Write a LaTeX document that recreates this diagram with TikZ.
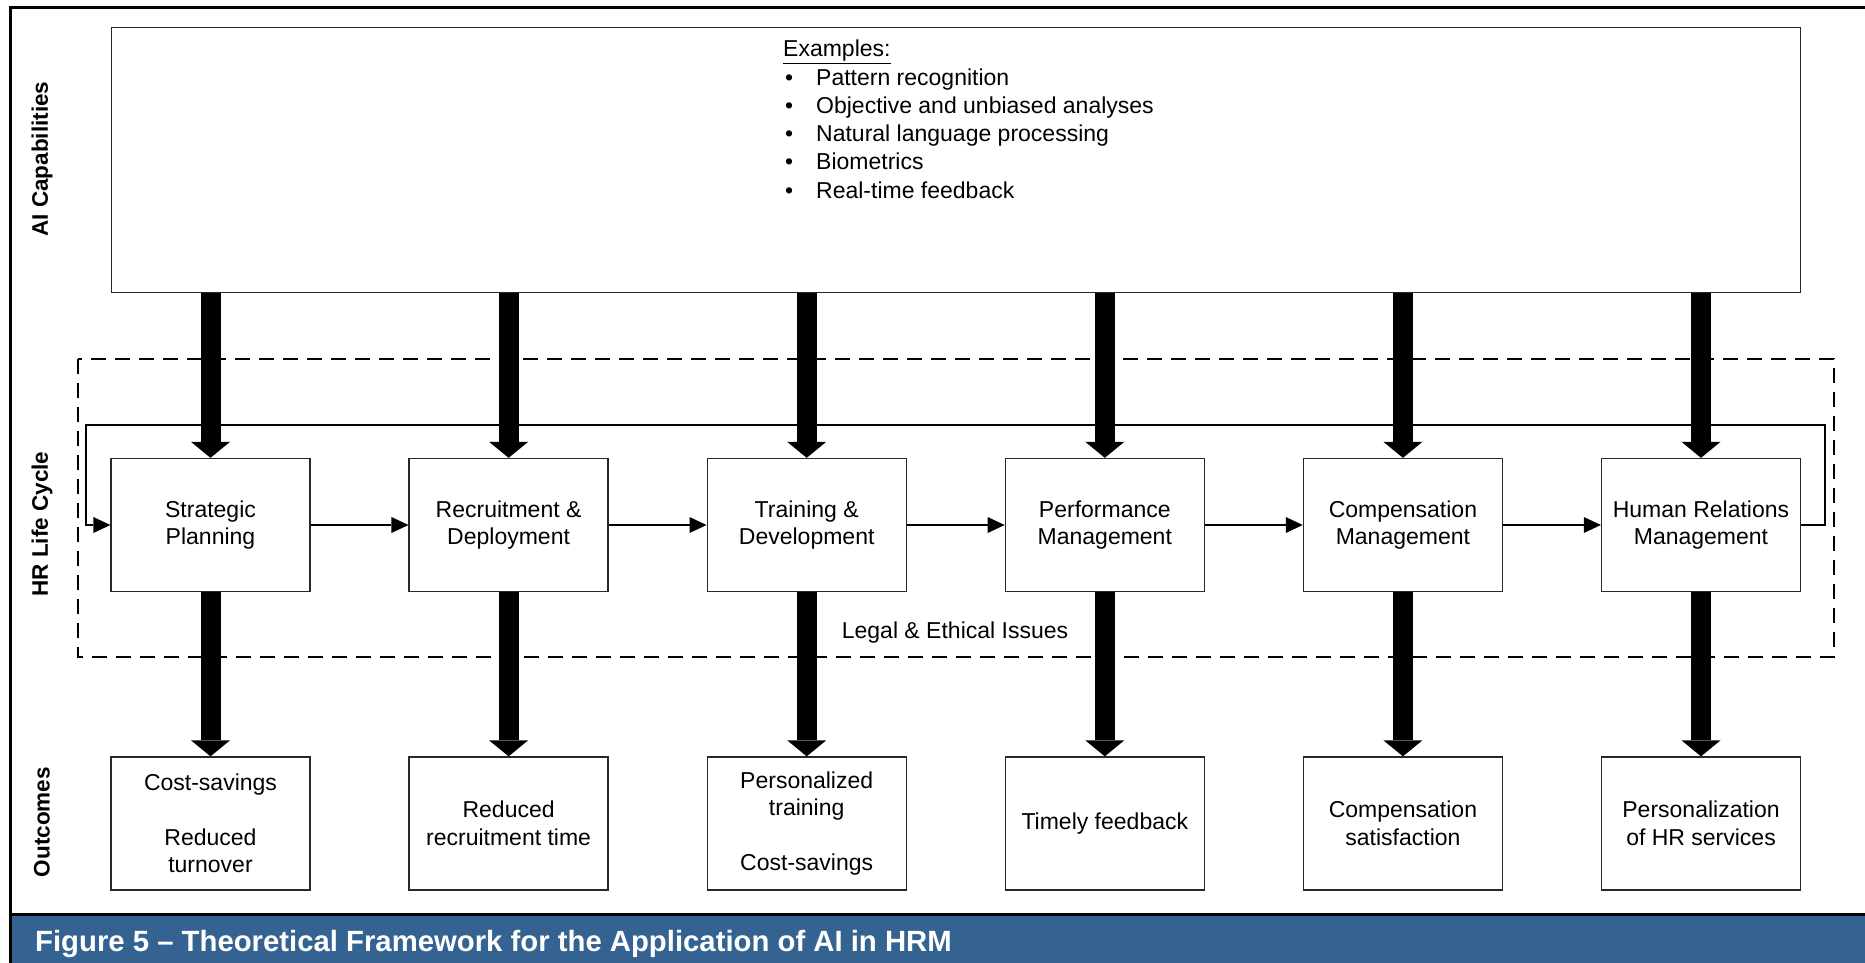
\documentclass[tikz,border=0pt]{standalone}
\usepackage{fontspec}
\setmainfont{Liberation Sans}
\usetikzlibrary{arrows.meta}
\definecolor{capblue}{RGB}{52,99,145}
\definecolor{boxline}{RGB}{40,40,40}
\begin{document}
\begin{tikzpicture}[x=1pt,y=-1pt,
  box/.style={draw=boxline, line width=1.3pt, minimum width=199pt, minimum height=133pt,
    inner sep=0pt, align=center, font=\fontsize{23}{27.5}\selectfont},
  txt/.style={inner sep=0pt, font=\fontsize{23}{27.5}\selectfont},
  big/.style={line width=20pt, -{Triangle[width=39pt,length=16pt,line width=0pt]}},
  flow/.style={line width=1.5pt, -{Triangle[width=16pt,length=17pt,line width=0pt]}},
  side/.style={rotate=90, inner sep=0pt, font=\bfseries\fontsize{22.5}{27}\selectfont},
]
\useasboundingbox (0,0) rectangle (1865,963);

% frame and caption bar
\fill[capblue] (11.5,916) rectangle (1865,963);
\draw[line width=3pt] (10,963) -- (10,8) -- (1865,8);
\draw[line width=3pt] (10,914.5) -- (1865,914.5);
\node[anchor=base west, inner sep=0pt, text=white, font=\bfseries\fontsize{29.3}{34}\selectfont] (cap) at (35,951)
  {Figure 5 – Theoretical Framework for the Application of AI in HRM};

% side labels
\node[side] (lab1) at (42,159) {AI Capabilities};
\node[side] (lab2) at (42,524) {HR Life Cycle};
\node[side] (lab3) at (42,822) {Outcomes};

% top box
\node[draw=boxline, line width=1.3pt, minimum width=1689pt, minimum height=265pt, inner sep=0pt] (top) at (956,160.2) {};
\node[txt, anchor=base west] (ex0) at (783,57) {\underline{Examples:}};
\foreach \t [count=\i] in {Pattern recognition, Objective and unbiased analyses, Natural language processing, Biometrics, Real-time feedback}{
  \node[txt, anchor=base west] (b\i) at (785,{57+28.2*\i}) {\textbullet};
  \node[txt, anchor=base west] (e\i) at (816,{57+28.2*\i}) {\t};
}

% legal & ethical region
\draw[dash pattern=on 15pt off 9pt, line width=1.4pt] (78,359) rectangle (1834,657);
\node[txt] (legal) at (955,633) {Legal \& Ethical Issues};

% HR life cycle boxes
\node[box] (h1) at (210.5,525) {Strategic\\Planning};
\node[box] (h2) at (508.6,525) {Recruitment \&\\Deployment};
\node[box] (h3) at (806.7,525) {Training \&\\Development};
\node[box] (h4) at (1104.8,525) {Performance\\Management};
\node[box] (h5) at (1402.9,525) {Compensation\\Management};
\node[box] (h6) at (1701.0,525) {Human Relations\\Management};

% outcome boxes
\node[box] (o1) at (210.5,823.5) {Cost-savings\\ \strut\\ Reduced\\ turnover};
\node[box] (o2) at (508.6,823.5) {Reduced\\recruitment time};
\node[box] (o3) at (806.7,823.5) {Personalized\\training\\ \strut\\ Cost-savings};
\node[box] (o4) at (1104.8,823.5) {Timely feedback};
\node[box] (o5) at (1402.9,823.5) {Compensation\\satisfaction};
\node[box] (o6) at (1701.0,823.5) {Personalization\\of HR services};

% feedback loop
\coordinate (fbR) at (1825,425);
\coordinate (fbL) at (86,425);
\draw[flow] (h6.east) -| (fbR) -- (fbL) |- (h1.west);

% flow arrows
\foreach \a/\b in {h1/h2,h2/h3,h3/h4,h4/h5,h5/h6}{
  \draw[flow] (\a.east) -- (\b.west);
}

% thick arrows
\foreach \n in {1,...,6}{
  \draw[big] (top.south -| h\n.north) -- (h\n.north);
  \draw[big] (h\n.south) -- (o\n.north);
}
\end{tikzpicture}
\end{document}
